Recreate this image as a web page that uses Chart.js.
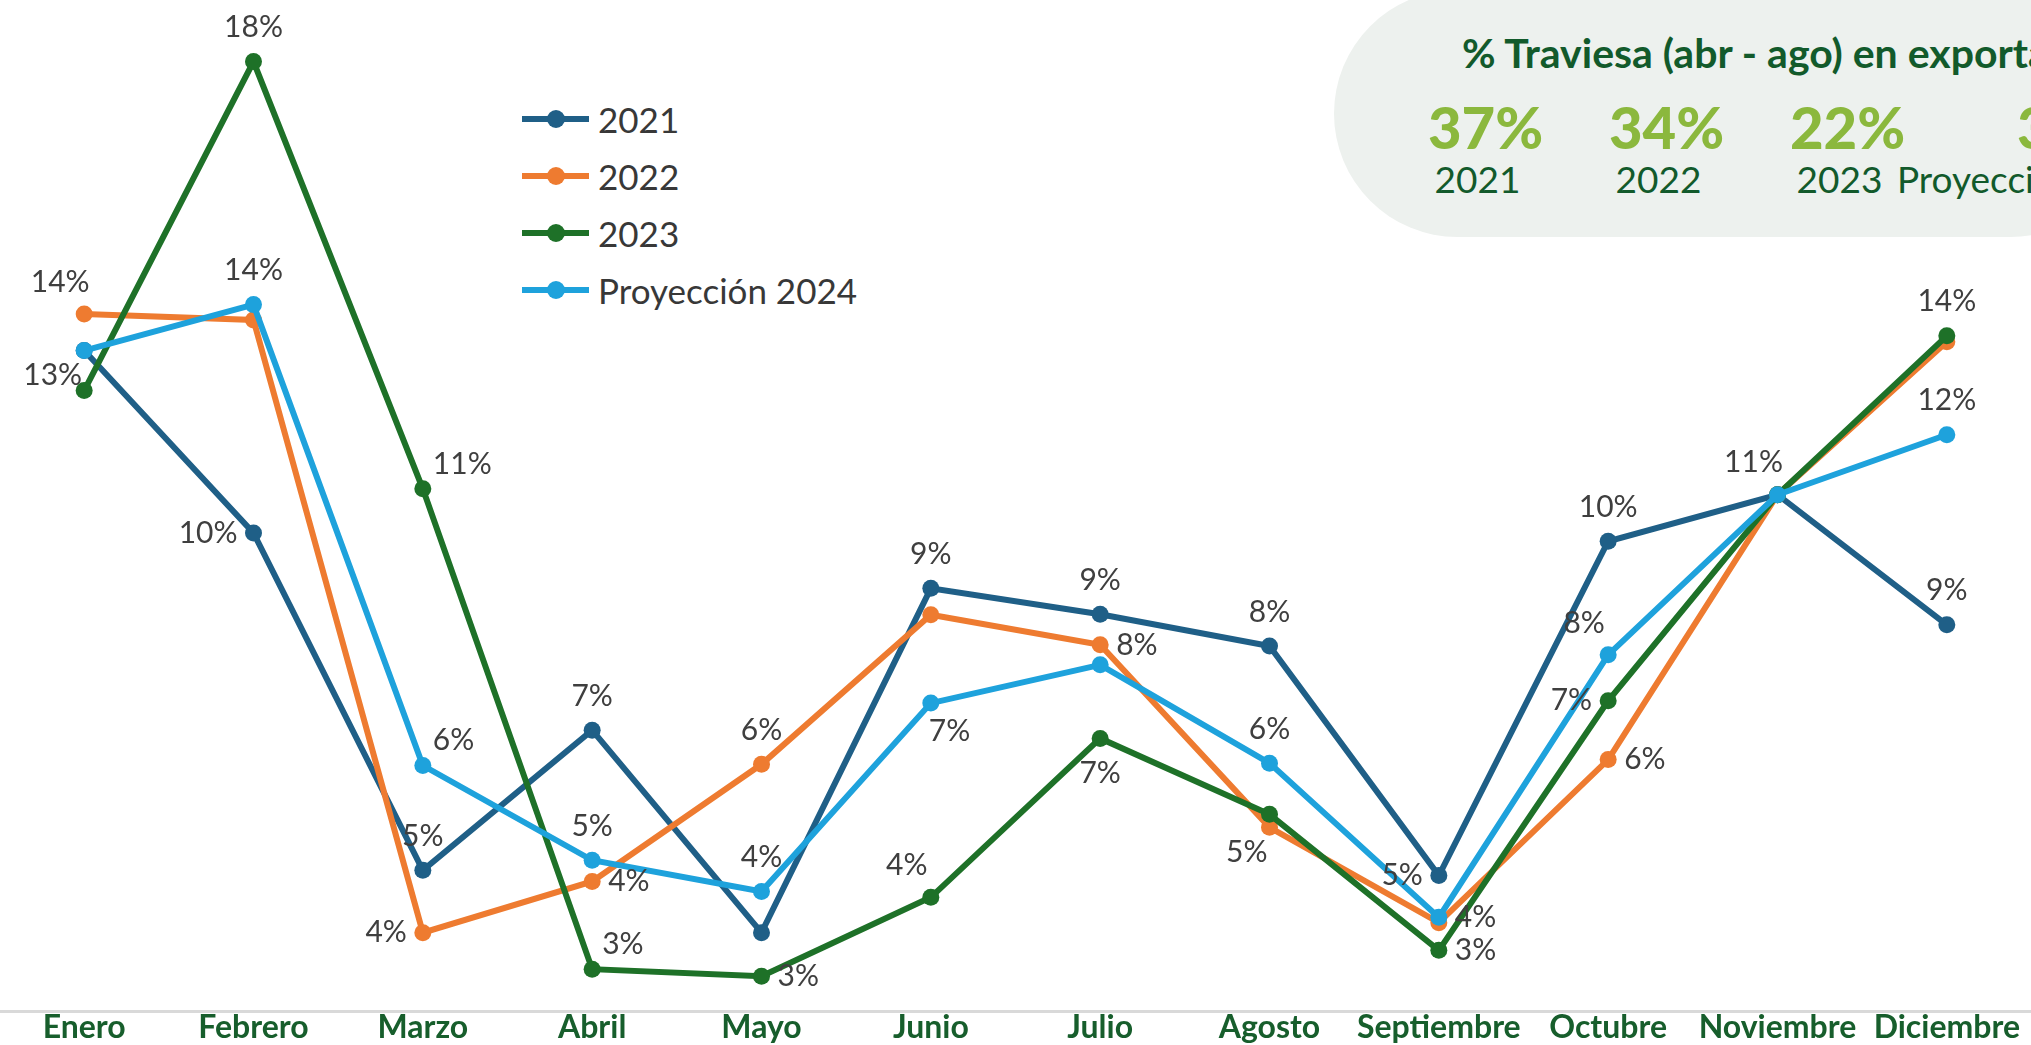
<!DOCTYPE html>
<html>
<head>
<meta charset="utf-8">
<script src="https://cdn.jsdelivr.net/npm/chart.js@4.4.1/dist/chart.umd.min.js"></script>
<style>
  html, body { margin: 0; padding: 0; background: #fff; overflow: hidden; }
  #wrap { position: relative; width: 2031px; height: 1045px; overflow: hidden; }
  #box {
    position: absolute; left: 1334px; top: -10px; width: 800px; height: 247px;
    background: #edf1ee; border-radius: 124px;
  }
  #boxTitle {
    position: absolute; left: 1462px; top: 28px; white-space: nowrap;
    font: 700 41px Lato; color: #125a2b; line-height: 50px;
  }
  .col { position: absolute; width: 181px; text-align: center; white-space: nowrap; }
  .big { font: 900 58px Lato; color: #8bb83d; line-height: 1; top: 98px; }
  .yr { font: 400 37px Lato; color: #125a2b; line-height: 1; top: 160px; }
  #legend { position: absolute; left: 522px; top: 90px; }
  .row { display: flex; align-items: center; height: 57px; }
  .mk { position: relative; width: 67px; height: 18px; }
  .mk .ln { position: absolute; left: 0; right: 0; top: 6px; height: 6px; }
  .mk .dt { position: absolute; left: 24.5px; top: 0; width: 18px; height: 18px; border-radius: 50%; }
  .row span.tx { font: 400 35px Lato; color: #383838; margin-left: 9px; }
  #c { position: absolute; left: -9px; top: 0; }
</style>
</head>
<body>
<div id="wrap">
  <div id="box"></div>
  <div id="boxTitle">% Traviesa (abr - ago) en exportación</div>
  <div id="summary"></div>
  <div id="legend"></div>
  <canvas id="c" width="2049" height="1045"></canvas>
</div>
<script>
const months = ['Enero', 'Febrero', 'Marzo', 'Abril', 'Mayo', 'Junio', 'Julio', 'Agosto', 'Septiembre', 'Octubre', 'Noviembre', 'Diciembre'];
const seriesNames = ['2021', '2022', '2023', 'Proyección 2024'];
const values2021 = [13.44, 10.34, 4.61, 6.99, 3.55, 9.40, 8.96, 8.42, 4.52, 10.20, 10.99, 8.78];
const values2022 = [14.06, 13.96, 3.55, 4.42, 6.41, 8.95, 8.44, 5.34, 3.72, 6.49, 10.99, 13.59];
const values2023 = [12.76, 18.35, 11.09, 2.93, 2.81, 4.15, 6.85, 5.56, 3.25, 7.49, 10.99, 13.69];
const values2024 = [13.44, 14.22, 6.39, 4.78, 4.25, 7.45, 8.10, 6.43, 3.81, 8.27, 10.99, 12.01];
const summaryValues = ['37%', '34%', '22%', '3'];
const summaryYears = ['2021', '2022', '2023', 'Proyección 2024'];

// where each data label sits relative to its point ('' = no label)
const labelPos2021 = ['bl', 'l', 't', 't', '', 't', 't', 't', 'l', 't', 'tl', 't'];
const labelPos2022 = ['tl', '', 'l', 'r', 't', '', 'r', 'bl', '', 'r', '', ''];
const labelPos2023 = ['', 't', 'tr', 'tr', 'r', 'tl', 'b', '', 'r', 'l', '', 't'];
const labelPos2024 = ['', 't', 'tr', 't', 't', 'br', '', 't', 'r', 'tl', '', 't'];

const colors = ['#1f5f87', '#ee7b30', '#1e7128', '#1ea2dc'];

// summary box
const summary = document.getElementById('summary');
summaryValues.forEach((v, i) => {
  const left = 1387 + i * 181;
  const b = document.createElement('div');
  b.className = 'col big';
  b.textContent = v;
  if (i === 3) { b.style.left = '2017px'; b.style.textAlign = 'left'; }
  else b.style.left = (left + 8) + 'px';
  summary.appendChild(b);
  const y = document.createElement('div');
  y.className = 'col yr';
  y.textContent = summaryYears[i];
  if (i === 3) { y.style.left = '1897px'; y.style.textAlign = 'left'; }
  else y.style.left = left + 'px';
  summary.appendChild(y);
});

// legend
const legend = document.getElementById('legend');
seriesNames.forEach((n, i) => {
  const r = document.createElement('div');
  r.className = 'row';
  r.innerHTML = '<div class="mk"><div class="ln" style="background:' + colors[i] + '"></div><div class="dt" style="background:' + colors[i] + '"></div></div><span class="tx">' + n + '</span>';
  legend.appendChild(r);
});

const offsets = {
  t: [0, -34, 'center'],
  b: [0, 35, 'center'],
  l: [-16, 0, 'right'],
  r: [16, 0, 'left'],
  tl: [-24, -32, 'center'],
  tr: [10, -25, 'left'],
  bl: [-2, 25, 'right'],
  br: [-2, 28, 'left']
};

const pointLabels = {
  id: 'pointLabels',
  afterDatasetsDraw(chart) {
    const ctx = chart.ctx;
    ctx.save();
    ctx.font = '400 30px Lato';
    ctx.fillStyle = '#3f3f3f';
    ctx.textBaseline = 'middle';
    chart.data.datasets.forEach((ds, i) => {
      const meta = chart.getDatasetMeta(i);
      meta.data.forEach((pt, j) => {
        const pos = ds.labelPos[j];
        if (!pos) return;
        const o = offsets[pos];
        ctx.textAlign = o[2];
        ctx.fillText(Math.round(ds.data[j]) + '%', pt.x + o[0], pt.y + o[1]);
      });
    });
    ctx.restore();
  }
};

function makeSet(i, data, pos, order) {
  return {
    label: seriesNames[i],
    data: data,
    labelPos: pos,
    borderColor: colors[i],
    backgroundColor: colors[i],
    borderWidth: 6,
    pointRadius: 8.5,
    pointHoverRadius: 8.5,
    pointBorderWidth: 0,
    tension: 0,
    clip: false,
    order: order
  };
}

new Chart(document.getElementById('c'), {
  type: 'line',
  data: {
    labels: months,
    datasets: [
      makeSet(0, values2021, labelPos2021, 3),
      makeSet(1, values2022, labelPos2022, 2),
      makeSet(2, values2023, labelPos2023, 1),
      makeSet(3, values2024, labelPos2024, 0)
    ]
  },
  options: {
    responsive: false,
    animation: false,
    layout: { padding: 0 },
    plugins: { legend: { display: false }, tooltip: { enabled: false } },
    scales: {
      x: {
        offset: true,
        grid: { display: false, drawTicks: false },
        border: { display: true, color: '#d9d9d9', width: 3 },
        ticks: {
          color: '#175e2c',
          font: { family: 'Lato', size: 32, weight: '700', lineHeight: 1.0625 },
          padding: 0,
          maxRotation: 0,
          autoSkip: false
        }
      },
      y: { display: false, min: 2.219, max: 19.251 }
    }
  },
  plugins: [pointLabels]
});
</script>
</body>
</html>
